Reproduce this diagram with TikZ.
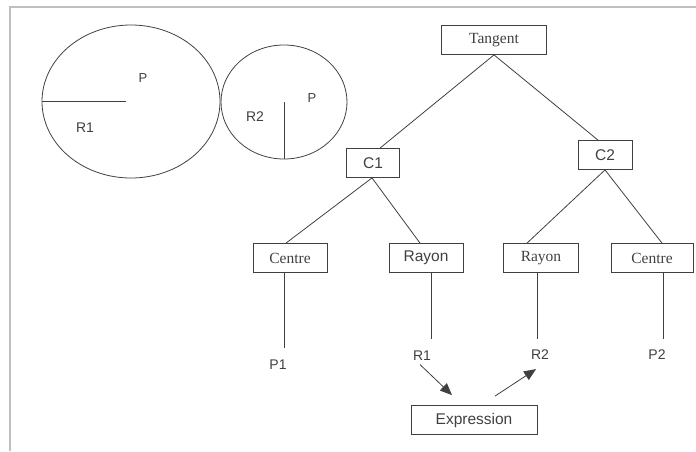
\documentclass[tikz,border=0pt]{standalone}
\usepackage{fontspec}
\setmainfont{Liberation Serif}
\setsansfont{Liberation Sans}
\usetikzlibrary{arrows.meta,positioning,calc}

\begin{document}
\begin{tikzpicture}[x=1pt,y=-1pt,line width=0.8pt,color=black!75,
    box/.style={draw,minimum height=29pt,inner sep=2pt},
    serif/.style={font=\fontsize{15.5}{15.5}\selectfont\rmfamily},
    sans/.style={font=\fontsize{15.5}{15.5}\selectfont\sffamily},
    leaf/.style={font=\fontsize{14}{14}\selectfont\sffamily},
    small/.style={font=\fontsize{13}{13}\selectfont\sffamily},
    link/.style={-{Triangle[length=12pt,width=10pt]}}]
    \useasboundingbox (0,0) rectangle (696,451);
    % frame
    \draw[black!25,line width=1.5pt] (10,451) -- (10,7) -- (696,7);
    % the two circles
    \draw (131,101.5) ellipse [x radius=89,y radius=76.5];
    \draw (42,101) -- (126,101);
    \node[small] (pa) at (143,78) {P};
    \node[leaf] (ra) at (85,128) {R1};
    \draw (284,102) ellipse [x radius=63,y radius=57];
    \draw (284,102) -- (284,159);
    \node[small] (pb) at (312,98) {P};
    \node[leaf] (rb) at (255,117) {R2};
    % tree
    \node[box,serif,minimum width=105pt] (tangent) at (494,40) {Tangent};
    \node[box,sans,minimum width=53pt] (c1) at (373,163) {C1};
    \node[box,sans,minimum width=54pt] (c2) at (605,155) {C2};
    \node[box,serif,minimum width=74pt] (centre1) at (290,258) {Centre};
    \node[box,sans,minimum width=74pt] (rayon1) at (426,258) {Rayon};
    \node[box,serif,minimum width=75pt] (rayon2) at (541,258) {Rayon};
    \node[box,serif,minimum width=82pt] (centre2) at (652,258) {Centre};
    \node[leaf] (p1) at (278,365) {P1};
    \node[leaf] (r1) at (422,356) {R1};
    \node[leaf] (r2) at (540,355) {R2};
    \node[leaf] (p2) at (657,355) {P2};
    \node[box,sans,minimum width=126pt] (expr) at (474,420) {Expression};
    \draw (tangent.south) -- ([xshift=7pt]c1.north);
    \draw (tangent.south) -- ([xshift=-7pt]c2.north);
    \draw ([xshift=-1pt]c1.south) -- ([xshift=-4pt]centre1.north);
    \draw ([xshift=-1pt]c1.south) -- ([xshift=-6pt]rayon1.north);
    \draw (c2.south) -- ([xshift=-14pt]rayon2.north);
    \draw (c2.south) -- ([xshift=10pt]centre2.north);
    \draw ([xshift=-6pt]centre1.south) -- ([xshift=6pt,yshift=8pt]p1.north);
    \draw ([xshift=5pt]rayon1.south) -- ([xshift=9pt,yshift=8.5pt]r1.north);
    \draw ([xshift=-4pt]rayon2.south) -- ([xshift=-3pt,yshift=7.5pt]r2.north);
    \draw ([xshift=11pt]centre2.south) -- ([xshift=6pt,yshift=7.5pt]p2.north);
    \draw[link] ([xshift=-2pt]r1.south) -- ([xshift=-22pt,yshift=10pt]expr.north);
    \draw[link] ([xshift=21pt,yshift=9pt]expr.north) -- ([xshift=-4pt,yshift=-5.5pt]r2.south);
\end{tikzpicture}
\end{document}
